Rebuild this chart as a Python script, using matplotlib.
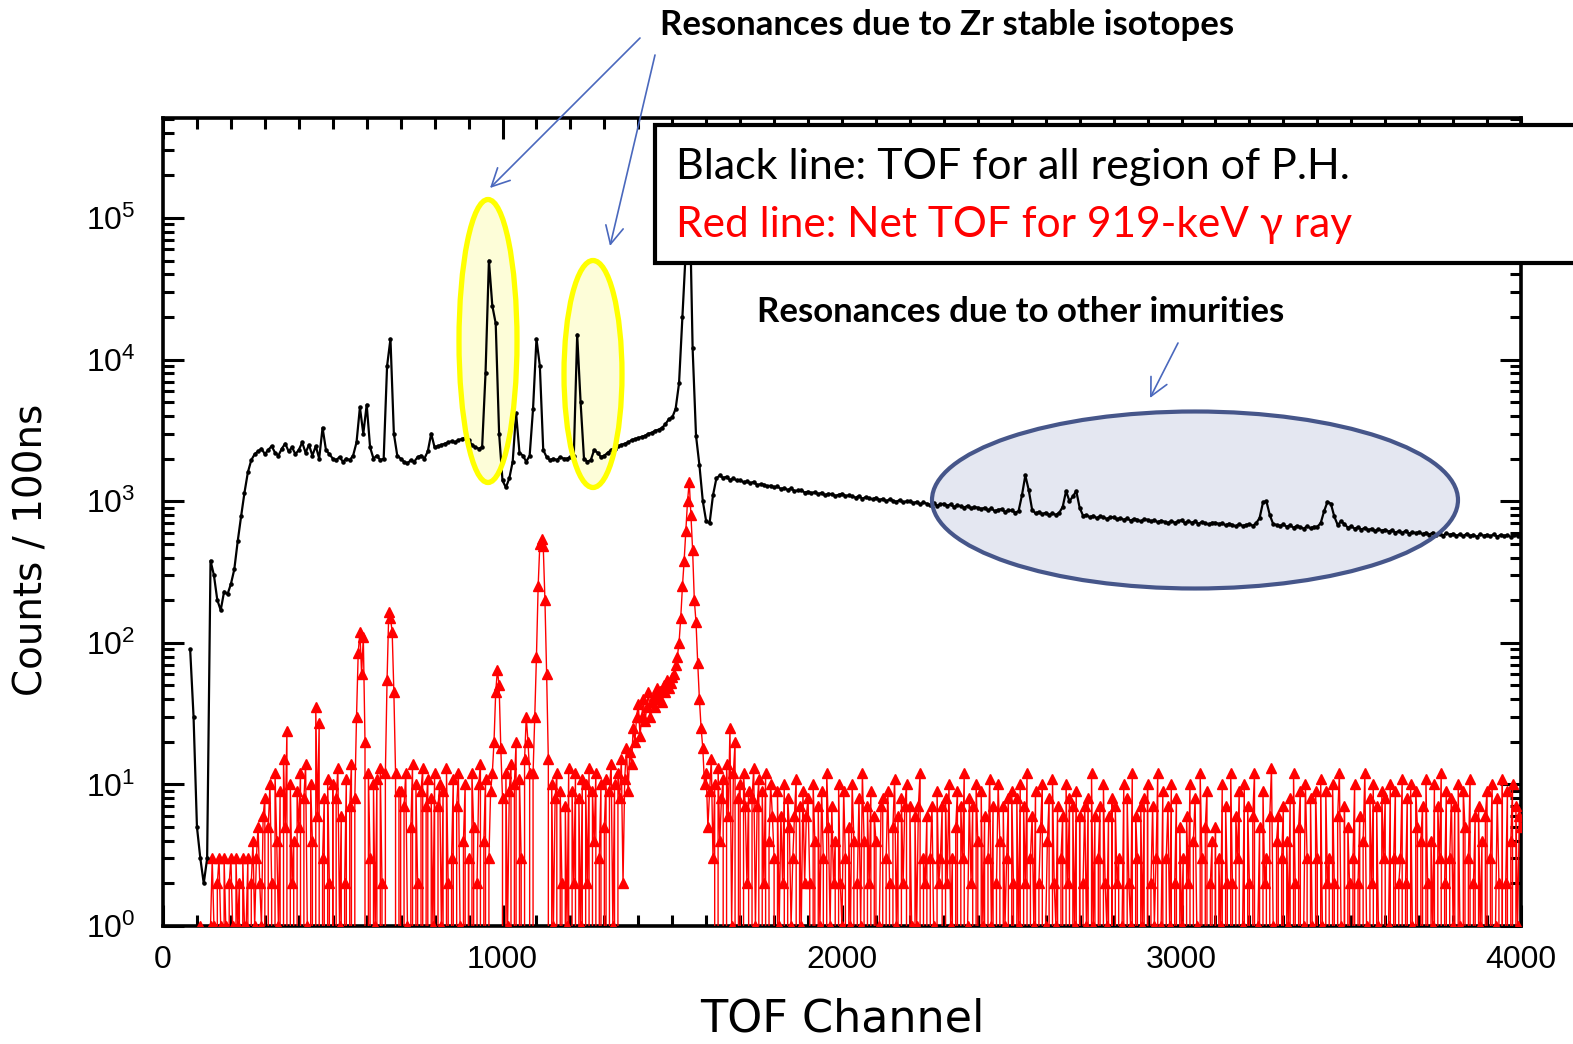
import numpy as np
import matplotlib
matplotlib.use("Agg")
import matplotlib.pyplot as plt
from matplotlib.patches import Ellipse, Rectangle, FancyArrowPatch
from matplotlib.ticker import FixedLocator, MultipleLocator, LogLocator, NullFormatter

plt.rcParams['font.family'] = ['Liberation Sans', 'DejaVu Sans']
plt.rcParams['mathtext.fontset'] = 'custom'
plt.rcParams['mathtext.rm'] = 'Liberation Sans'
plt.rcParams['mathtext.it'] = 'Liberation Sans:italic'

# ---------------- data ----------------
# Black line: total TOF, one value every 10 channels starting at channel 80
black_start, black_step = 80, 10
black_counts = (
    [90, 30] +
    [5, 3, 2, 3, 380, 300, 200, 170, 230, 220] +
    [260, 330, 520, 780, 1150, 1600, 1950, 2150, 2250, 2350] +
    [2150, 2300, 2450, 2200, 2100, 2350, 2550, 2250, 2400, 2150] +
    [2300, 2600, 2200, 2500, 2100, 2450, 2000, 3300, 2300, 2150] +
    [2000, 1950, 2050, 1900, 2000, 1950, 2100, 2600, 4600, 3000] +
    [4800, 2400, 2000, 2100, 1950, 2000, 9000, 14000, 3000, 2100] +
    [2000, 1900, 1850, 1950, 1900, 2050, 2100, 2000, 2250, 3000] +
    [2400, 2450, 2500, 2550, 2600, 2650, 2600, 2700, 2750, 2800] +
    [2700, 2500, 2400, 2350, 2400, 8000, 50000, 24000, 18000, 3000] +
    [1400, 1250, 1450, 1900, 4200, 2200, 2100, 1900, 2100, 4500] +
    [14000, 9000, 2300, 2050, 1950, 2000, 1950, 2050, 2000, 2000] +
    [2050, 2100, 15000, 5000, 2000, 1900, 1950, 2300, 2200, 2050] +
    [2100, 2200, 2300, 2350, 2450, 2500, 2550, 2600, 2700, 2750] +
    [2800, 2850, 2900, 3000, 3050, 3150, 3200, 3300, 3500, 3800] +
    [3900, 4500, 6800, 20000, 60000, 200000, 12000, 2900, 1800, 1000] +
    [720, 700, 1100, 1450, 1520, 1460, 1490, 1410, 1450, 1400] +
    [1410, 1360, 1380, 1340, 1370, 1300, 1320, 1310, 1270, 1290] +
    [1250, 1270, 1220, 1240, 1200, 1230, 1180, 1190, 1200, 1150] +
    [1170, 1140, 1160, 1120, 1150, 1100, 1130, 1120, 1090, 1110] +
    [1130, 1090, 1100, 1080, 1060, 1090, 1040, 1070, 1050, 1030] +
    [1060, 1020, 1040, 1000, 1030, 1010, 990, 1020, 980, 1000] +
    [1000, 970, 990, 950, 980, 960, 940, 970, 930, 950] +
    [960, 930, 950, 910, 940, 920, 900, 930, 890, 910] +
    [900, 880, 900, 860, 890, 850, 870, 880, 840, 860] +
    [860, 830, 850, 1100, 1520, 1200, 870, 820, 840, 810] +
    [830, 800, 820, 800, 830, 910, 1180, 1000, 1080, 1180] +
    [900, 790, 800, 770, 790, 760, 780, 770, 750, 770] +
    [770, 745, 760, 740, 755, 730, 750, 740, 720, 745] +
    [740, 720, 735, 710, 730, 715, 700, 725, 705, 720] +
    [735, 700, 725, 705, 720, 690, 715, 700, 685, 705] +
    [705, 690, 700, 675, 695, 680, 665, 690, 670, 680] +
    [690, 670, 700, 760, 980, 1000, 800, 690, 680, 670] +
    [685, 660, 675, 650, 670, 655, 640, 665, 645, 660] +
    [660, 700, 850, 990, 960, 780, 680, 720, 690, 650] +
    [665, 640, 655, 630, 650, 625, 640, 615, 635, 620] +
    [630, 610, 625, 600, 615, 595, 620, 590, 605, 595] +
    [605, 585, 600, 580, 600, 575, 590, 570, 595, 580] +
    [590, 570, 585, 565, 590, 570, 580, 560, 585, 570] +
    [580, 565, 585, 560, 580, 570, 575, 560, 580, 570] +
    [585]
)

# Red line: net TOF for the 919-keV gamma ray, one value every 5 channels from channel 100
red_start, red_step = 100, 5
red_counts = (
    [0, 0, 1, 0, 0, 0, 0, 0, 1, 3, 1, 0, 2, 3, 1, 0, 3, 1, 0, 2] +
    [3, 1, 0, 3, 1, 2, 0, 3, 1, 1, 3, 0, 2, 4, 1, 3, 5, 2, 1, 6] +
    [8, 0, 5, 10, 2, 0, 12, 4, 1, 9, 0, 15, 5, 24, 0, 10, 2, 4, 0, 9] +
    [5, 12, 0, 8, 14, 1, 0, 10, 4, 0, 35, 6, 27, 0, 3, 8, 0, 11, 2, 0] +
    [10, 0, 8, 13, 1, 6, 0, 2, 11, 0, 7, 14, 0, 8, 30, 85, 120, 60, 110, 20] +
    [0, 12, 3, 0, 10, 1, 11, 0, 13, 2, 0, 12, 55, 165, 150, 120, 45, 12, 0, 9] +
    [9, 0, 7, 12, 1, 0, 5, 14, 0, 10, 2, 0, 9, 13, 0, 7, 11, 0, 8, 1] +
    [12, 0, 7, 10, 1, 9, 0, 13, 2, 0, 3, 11, 0, 7, 12, 1, 0, 4, 10, 0] +
    [3, 0, 12, 5, 0, 2, 10, 14, 0, 4, 11, 0, 3, 9, 12, 20, 45, 64, 50, 18] +
    [8, 0, 12, 1, 9, 14, 0, 10, 20, 0, 11, 3, 0, 15, 30, 20, 12, 0, 12, 30] +
    [80, 250, 500, 540, 480, 200, 60, 15, 0, 10, 1, 8, 12, 0, 9, 2, 0, 7, 1, 13] +
    [0, 9, 2, 12, 0, 8, 1, 11, 0, 10, 2, 13, 0, 9, 4, 12, 0, 3, 10, 0] +
    [5, 11, 0, 9, 14, 1, 10, 0, 12, 8, 15, 2, 11, 18, 9, 17, 14, 25, 20, 30] +
    [37, 22, 30, 40, 28, 35, 45, 30, 38, 42, 35, 48, 40, 46, 38, 50, 45, 55, 48, 52] +
    [57, 60, 70, 80, 100, 150, 250, 380, 620, 1000, 1370, 800, 450, 200, 140, 72, 40, 25, 18, 10] +
    [12, 5, 9, 15, 3, 10, 0, 13, 4, 8, 11, 0, 14, 6, 25, 1, 12, 20, 0, 8] +
    [10, 0, 12, 7, 2, 9, 0, 8, 13, 1, 7, 11, 0, 9, 2, 12, 0, 4, 10, 6] +
    [3, 0, 9, 1, 6, 2, 10, 0, 8, 5, 1, 3, 6, 11, 0, 7, 1, 9, 2, 6] +
    [8, 2, 0, 10, 4, 0, 7, 1, 9, 3, 0, 12, 5, 1, 7, 2, 4, 0, 10, 2] +
    [1, 9, 3, 0, 5, 1, 10, 4, 0, 2, 8, 1, 12, 4, 0, 7, 2, 9, 0, 6] +
    [4, 0, 1, 7, 8, 0, 3, 9, 2, 0, 5, 11, 1, 6, 0, 8, 2, 7, 10, 0] +
    [7, 1, 0, 6, 1, 7, 12, 0, 3, 2, 6, 0, 3, 7, 1, 0, 9, 2, 3, 7] +
    [0, 8, 2, 10, 1, 3, 0, 5, 9, 0, 7, 3, 12, 0, 1, 8, 2, 7, 0, 10] +
    [4, 0, 9, 1, 6, 0, 3, 11, 1, 7, 0, 2, 10, 4, 0, 7, 1, 3, 8, 0] +
    [9, 2, 0, 8, 1, 10, 0, 7, 2, 12, 0, 3, 6, 1, 9, 0, 2, 5, 10, 0] +
    [1, 4, 8, 0, 11, 2, 1, 7, 0, 3, 6, 0, 10, 2, 8, 0, 7, 1, 9, 0] +
    [6, 0, 2, 7, 1, 8, 0, 12, 1, 6, 0, 3, 7, 0, 10, 2, 1, 6, 0, 8] +
    [0, 7, 2, 3, 0, 1, 10, 0, 8, 2, 1, 12, 0, 6, 3, 0, 7, 1, 8, 0] +
    [10, 0, 2, 7, 1, 3, 12, 0, 1, 9, 0, 3, 7, 1, 10, 0, 2, 8, 0, 5] +
    [1, 3, 0, 6, 2, 10, 0, 4, 8, 1, 0, 12, 3, 0, 5, 9, 0, 2, 4, 0] +
    [5, 0, 3, 1, 10, 0, 7, 2, 0, 12, 2, 0, 6, 3, 9, 0, 1, 10, 0, 7] +
    [2, 0, 6, 12, 0, 1, 5, 0, 9, 2, 3, 0, 6, 13, 1, 0, 4, 6, 0, 3] +
    [7, 0, 4, 1, 8, 0, 12, 2, 0, 5, 9, 0, 1, 10, 3, 0, 8, 1, 0, 9] +
    [3, 0, 11, 1, 0, 9, 2, 3, 0, 10, 2, 0, 6, 12, 1, 0, 7, 0, 5, 2] +
    [0, 3, 10, 0, 2, 6, 0, 4, 12, 1, 0, 8, 2, 10, 0, 7, 1, 0, 9, 3] +
    [8, 0, 1, 10, 0, 3, 9, 0, 2, 3, 11, 0, 2, 8, 0, 10, 1, 0, 9, 5] +
    [0, 4, 7, 0, 11, 2, 0, 4, 1, 10, 0, 7, 3, 12, 0, 2, 9, 0, 3, 8] +
    [1, 7, 0, 10, 1, 0, 9, 5, 0, 3, 11, 0, 2, 6, 0, 7, 1, 4, 0, 6] +
    [9, 0, 3, 10, 0, 1, 8, 2, 0, 11, 0, 2, 9, 0, 4, 10, 0, 7, 1, 6] +
    [5]
)

x_ticks = [0, 1000, 2000, 3000, 4000]
x_label = "TOF Channel"
y_label = "Counts / 100ns"
title_zr = "Resonances due to Zr stable isotopes"
title_other = "Resonances due to other imurities"
legend_black = "Black line: TOF for all region of P.H."
legend_red = "Red line: Net TOF for 919-keV \u03b3 ray"

black_ch = black_start + black_step * np.arange(len(black_counts))
red_ch = red_start + red_step * np.arange(len(red_counts))

# ---------------- figure ----------------
W, H = 1573, 1044
fig = plt.figure(figsize=(W / 100, H / 100), dpi=100)
fig.patch.set_facecolor('white')

def fx(x):
    return x / W

def fy(y):
    return 1 - y / H

L, R, T, B = 163, 1521, 118, 926
ax = fig.add_axes([fx(L), fy(B), (R - L) / W, (B - T) / H])
ax.set_yscale('log', nonpositive='clip')
ax.set_xlim(0, 4000)
ax.set_ylim(1, 10 ** 5.706)

ax.plot(red_ch, red_counts, color='red', lw=1.0, marker='^', ms=7.5, mec='red', mfc='red', zorder=3)
ax.plot(black_ch, black_counts, color='black', lw=1.6, marker='.', ms=4.5, zorder=3.5)

ax.xaxis.set_major_locator(FixedLocator(x_ticks))
ax.xaxis.set_minor_locator(MultipleLocator(100))
ax.yaxis.set_major_locator(LogLocator(base=10, numticks=10))
ax.yaxis.set_minor_locator(LogLocator(base=10, subs=np.arange(2, 10), numticks=20))
ax.yaxis.set_minor_formatter(NullFormatter())
ax.tick_params(which='both', direction='in', top=True, right=True, width=2.2, labelsize=23)
ax.tick_params(which='major', length=15)
ax.tick_params(which='minor', length=8)
ax.tick_params(axis='x', pad=14)
ax.tick_params(axis='y', pad=20)
for s in ax.spines.values():
    s.set_linewidth(2.6)

ax.set_xlabel(x_label, fontsize=32, family=['DejaVu Sans'])
ax.xaxis.set_label_coords(0.5, -0.088)
ax.set_ylabel(y_label, fontsize=28, family=['DejaVu Sans'])
ax.yaxis.set_label_coords(-0.0825, 0.465)

# ---------------- highlight ellipses ----------------
def add_ellipse(cx, cy, w, h, face, edge, lw):
    e_face = Ellipse((fx(cx), fy(cy)), w / W, h / H, transform=fig.transFigure,
                     facecolor=face, edgecolor='none', zorder=1)
    ax.add_patch(e_face)
    e_edge = Ellipse((fx(cx), fy(cy)), w / W, h / H, transform=fig.transFigure,
                     facecolor='none', edgecolor=edge, lw=lw, zorder=5)
    ax.add_patch(e_edge)

add_ellipse(488, 341, 58, 283, '#fdfdd8', '#ffff00', 3.8)
add_ellipse(593, 374, 58, 227, '#fdfdd8', '#ffff00', 3.8)
add_ellipse(1195, 500, 526, 177, '#e4e7f1', '#46568a', 3.0)

# ---------------- legend box ----------------
box = Rectangle((fx(655), fy(263)), (1640 - 655) / W, (263 - 125) / H, transform=fig.transFigure,
                facecolor='white', edgecolor='black', lw=3.0, zorder=10)
fig.add_artist(box)
fig.text(fx(676), fy(167), legend_black, fontsize=31, family=['Lato', 'DejaVu Sans'],
         color='black', ha='left', va='center', zorder=11)
fig.text(fx(676), fy(225), legend_red, fontsize=30.5, family=['Lato', 'DejaVu Sans'],
         color='red', ha='left', va='center', zorder=11)

# ---------------- annotations ----------------
fig.text(fx(660), fy(25), title_zr, fontsize=25, fontweight='bold', family=['Lato', 'DejaVu Sans'],
         ha='left', va='center', zorder=11)
fig.text(fx(757), fy(312), title_other, fontsize=25, fontweight='bold', family=['Lato', 'DejaVu Sans'],
         ha='left', va='center', zorder=11)

arrow_kw = dict(arrowstyle='->', color='#4a68bd', lw=1.2, mutation_scale=32, shrinkA=0, shrinkB=0)
for (x0, y0), (x1, y1) in [((640, 38), (490, 188)), ((655, 55), (610, 246)), ((1178, 343), (1150, 398))]:
    fig.add_artist(FancyArrowPatch((fx(x0), fy(y0)), (fx(x1), fy(y1)),
                   transform=fig.transFigure, zorder=12, **arrow_kw))

fig.savefig('out.png', dpi=100, facecolor='white')
